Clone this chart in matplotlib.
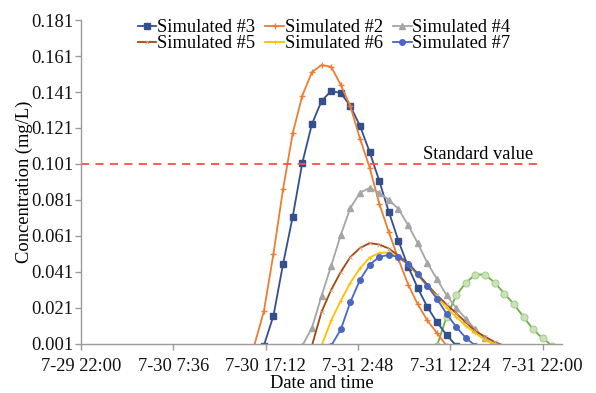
import numpy as np
from matplotlib import pyplot as plt

# hours counted from 7-29 22:00
hours_2 = np.arange(18, 39)
sim_2 = [0.0, 0.019, 0.051, 0.087, 0.118, 0.139, 0.152, 0.156, 0.155, 0.145, 0.133,
         0.115, 0.099, 0.079, 0.063, 0.048, 0.034, 0.023, 0.014, 0.007, 0.0]
hours_3 = np.arange(19, 40)
sim_3 = [0.0, 0.0166, 0.0454, 0.0716, 0.1016, 0.1232, 0.136, 0.1416, 0.1404, 0.1332, 0.1221,
         0.1077, 0.0916, 0.0743, 0.0582, 0.044, 0.032, 0.0215, 0.013, 0.006, 0.0]
hours_4 = np.arange(23, 44)
sim_4 = [0.0, 0.0099, 0.0277, 0.0443, 0.0616, 0.0766, 0.085, 0.0877, 0.085, 0.081, 0.076,
         0.067, 0.057, 0.046, 0.037, 0.028, 0.021, 0.015, 0.009, 0.004, 0.0]
hours_5 = np.arange(24, 45)
sim_5 = [0.0, 0.0188, 0.031, 0.041, 0.0493, 0.0543, 0.057, 0.0562, 0.054, 0.050, 0.046,
         0.040, 0.034, 0.028, 0.023, 0.018, 0.013, 0.008, 0.005, 0.002, 0.0]
hours_6 = np.arange(25, 45)
sim_6 = [0.0, 0.014, 0.025, 0.035, 0.043, 0.049, 0.0515, 0.0518, 0.049, 0.045, 0.039,
         0.033, 0.027, 0.021, 0.016, 0.011, 0.007, 0.003, 0.001, 0.0]
hours_7 = np.arange(26, 42)
sim_7 = [0.0, 0.009, 0.0243, 0.0366, 0.045, 0.0493, 0.0505, 0.0493, 0.0455, 0.0399, 0.0333,
         0.026, 0.0177, 0.0104, 0.0043, 0.0]
hours_1 = np.arange(37, 50)
sim_1 = [0.0, 0.016, 0.028, 0.035, 0.0395, 0.0395, 0.035, 0.029, 0.023, 0.016, 0.009, 0.004, 0.0]

standard = 0.101
tick_hours = [0, 9.6, 19.2, 28.8, 38.4, 48]
tick_labels = ['7-29 22:00', '7-30 7:36', '7-30 17:12', '7-31 2:48', '7-31 12:24', '7-31 22:00']
yticks = np.arange(0.001, 0.1811, 0.02)

plt.rcParams['font.family'] = ['Liberation Serif', 'DejaVu Serif']
plt.rcParams['font.size'] = 13.3

fig = plt.figure(figsize=(5.96, 3.93), dpi=100)
ax = fig.add_axes([0.136, 0.125, 0.807, 0.824])

lw = 1.3
ax.plot(hours_1, sim_1, color='#70AD47', lw=lw, marker='o', ms=5,
        mfc='#C9E3B8', mec='#A9D18E', mew=0.8)
h3, = ax.plot(hours_3, sim_3, color='#34508C', lw=lw, marker='s', ms=4.5, label='Simulated #3')
h2, = ax.plot(hours_2, sim_2, color='#ED7D31', lw=lw, marker='+', ms=4, mew=1, label='Simulated #2')
h4, = ax.plot(hours_4, sim_4, color='#A5A5A5', lw=lw, marker='^', ms=4, label='Simulated #4')
h5, = ax.plot(hours_5, sim_5, color='#9E480E', lw=lw, marker='x', ms=3, mew=0.6, mec='#D7A58A', label='Simulated #5')
h6, = ax.plot(hours_6, sim_6, color='#FFC000', lw=lw, marker='+', ms=3, mew=0.6, label='Simulated #6')
h7, = ax.plot(hours_7, sim_7, color='#4A66C0', lw=lw, marker='o', ms=4, label='Simulated #7')

ax.plot([0, 47.4], [standard, standard], color='#FF4B4B', lw=1.3, dashes=(4.5, 3.5))
ax.text(47.0, standard + 0.0008, 'Standard value', ha='right', va='bottom')

ax.set_xlim(0, 50)
ax.set_ylim(0.001, 0.181)
ax.set_xticks(tick_hours)
ax.set_xticklabels(tick_labels)
ax.set_yticks(yticks)
ax.set_yticklabels([f'{v:.3f}' for v in yticks])
for s in ['top', 'right']:
    ax.spines[s].set_visible(False)
for s in ['left', 'bottom']:
    ax.spines[s].set_color('#9A9A9A')
    ax.spines[s].set_linewidth(1.0)
ax.tick_params(colors='#9A9A9A', labelcolor='#111111', length=4, width=1)
ax.tick_params(axis='x', pad=6)
ax.tick_params(axis='y', pad=1.5)

ax.set_xlabel('Date and time', labelpad=0.5)
ax.set_ylabel('Concentration (mg/L)', labelpad=-1.5)

fig.legend([h3, h5, h2, h6, h4, h7],
           ['Simulated #3', 'Simulated #5', 'Simulated #2', 'Simulated #6', 'Simulated #4', 'Simulated #7'],
           ncol=3, frameon=False, loc='upper left', bbox_to_anchor=(0.225, 0.96),
           handlelength=1.0, handletextpad=0.05, columnspacing=0.55, labelspacing=-0.05,
           borderaxespad=0, borderpad=0.2)

plt.savefig('out.png', dpi=100)
plt.close()
